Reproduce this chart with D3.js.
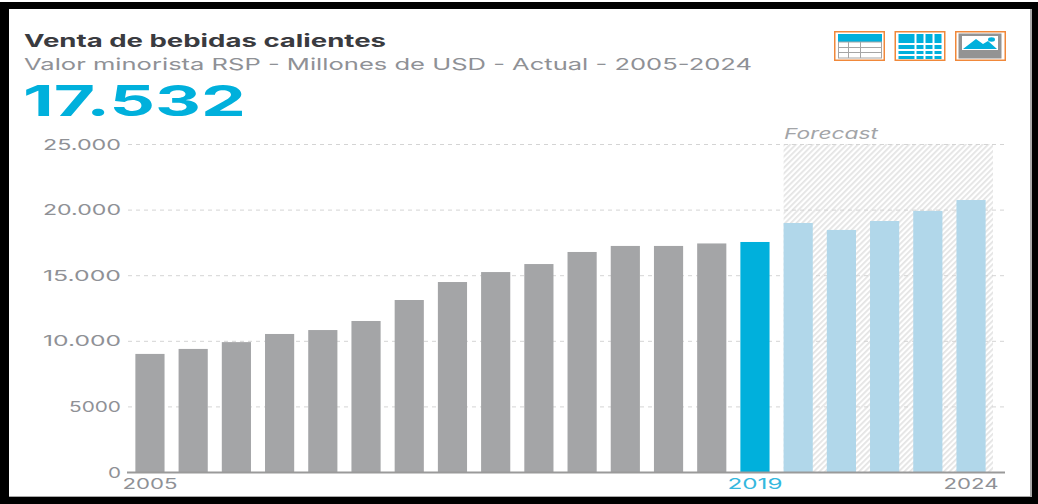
<!DOCTYPE html>
<html lang="es">
<head>
<meta charset="utf-8">
<title>Venta de bebidas calientes</title>
<script src="https://cdn.jsdelivr.net/npm/d3@7"></script>
<style>
  html, body { margin: 0; padding: 0; background: #fff; }
  svg { display: block; }
  text { font-family: "Inter", "Lato", sans-serif; }
</style>
</head>
<body>
<svg id="chart" width="1038" height="504"></svg>
<script>
// Retail value of hot drinks, USD millions
const years = [2005, 2006, 2007, 2008, 2009, 2010, 2011, 2012, 2013, 2014,
               2015, 2016, 2017, 2018, 2019, 2020, 2021, 2022, 2023, 2024];
const values = [9000, 9380, 9900, 10520, 10820, 11510, 13110, 14480, 15240, 15850,
                16770, 17230, 17230, 17420, 17532, 18980, 18450, 19130, 19900, 20730];
const yTicks = [0, 5000, 10000, 15000, 20000, 25000];
const yTickLabels = ["0", "5000", "10.000", "15.000", "20.000", "25.000"];
const xLabels = [2005, 2019, 2024];
const currentYear = 2019;
const titleText = "Venta de bebidas calientes";
const subtitleText = "Valor minorista RSP - Millones de USD - Actual - 2005-2024";
const headlineText = "17.532";
const forecastText = "Forecast";

const svg = d3.select("#chart");
const GREY_TEXT = "#8f9196", BLUE = "#00b0dc", LIGHT_BLUE = "#b1d7ea", GREY_BAR = "#a4a5a7";

// Outer frame
svg.append("rect").attr("x", 0).attr("y", 2).attr("width", 1038).attr("height", 502).attr("fill", "#000");
svg.append("rect").attr("x", 9).attr("y", 9).attr("width", 1023).attr("height", 488).attr("fill", "#a9a9a9");
svg.append("rect").attr("x", 9).attr("y", 9).attr("width", 1021).attr("height", 487).attr("fill", "#fff");

const x = d3.scaleBand().domain(years).range([125, 996]).paddingInner(0.325).paddingOuter(0.24);
const y = d3.scaleLinear().domain([0, 25000]).range([472, 144]);

// Fine diagonal hatching behind the forecast years
const defs = svg.append("defs");
const hatch = defs.append("pattern").attr("id", "hatch").attr("patternUnits", "userSpaceOnUse")
  .attr("width", 4).attr("height", 4).attr("patternTransform", "rotate(-45)");
hatch.append("rect").attr("width", 4).attr("height", 4).attr("fill", "#fff");
hatch.append("rect").attr("width", 4).attr("height", 1.8).attr("fill", "#e4e4e4");

const forecastYears = years.filter(d => d > currentYear);
const hatchLeft = x(forecastYears[0]);
svg.append("rect").attr("x", hatchLeft).attr("y", y(25000))
  .attr("width", 993 - hatchLeft).attr("height", y(0) - y(25000)).attr("fill", "url(#hatch)");

// Dashed grid lines
svg.append("g").selectAll("line").data(yTicks.slice(1)).join("line")
  .attr("x1", 128).attr("x2", 1004)
  .attr("y1", d => y(d) + 0.5).attr("y2", d => y(d) + 0.5)
  .attr("stroke", "#d4d4d4").attr("stroke-width", 1).attr("stroke-dasharray", "4 4");

// Bars
svg.append("g").selectAll("rect").data(years).join("rect")
  .attr("x", d => x(d)).attr("width", x.bandwidth())
  .attr("y", (d, i) => y(values[i]))
  .attr("height", (d, i) => y(0) - y(values[i]))
  .attr("fill", d => d === currentYear ? BLUE : d > currentYear ? LIGHT_BLUE : GREY_BAR);

// Baseline
svg.append("line").attr("x1", 127).attr("x2", 1005).attr("y1", 472.5).attr("y2", 472.5)
  .attr("stroke", "#9a9a9a").attr("stroke-width", 2);

// Stretches a label to a set width so the wide face of the layout is kept
function label(txt, xPos, yPos, width, size, fill, opts = {}) {
  return svg.append("text").text(txt)
    .attr("x", xPos).attr("y", yPos)
    .attr("font-size", size).attr("fill", fill)
    .attr("font-weight", opts.weight || 400)
    .attr("font-style", opts.style || "normal")
    .attr("text-anchor", opts.anchor || "start")
    .attr("textLength", width).attr("lengthAdjust", "spacingAndGlyphs");
}

label(titleText, 24, 47, 362, 17.5, "#3a3b40", { weight: 700 });
label(subtitleText, 24, 70, 728, 16.5, GREY_TEXT);
label(headlineText, 23, 116, 223, 43, BLUE, { weight: 700 });
label(forecastText, 784, 139, 94, 15, "#a3a5a8", { style: "italic" });

// Value axis labels
const tickWidths = { "0": 13, "5000": 52, "10.000": 78, "15.000": 78, "20.000": 78, "25.000": 78 };
yTicks.forEach((t, i) => {
  label(yTickLabels[i], 121, y(t) + 5.5, tickWidths[yTickLabels[i]], 15, GREY_TEXT, { anchor: "end" });
});

// Year labels
xLabels.forEach(d => {
  label(d, x(d) + x.bandwidth() / 2, 489, 55, 15,
        d === currentYear ? "#35b8de" : GREY_TEXT, { anchor: "middle" });
});

// Toolbar icons
const iconLefts = [834, 894.5, 955];
const icons = svg.append("g");
iconLefts.forEach(left => {
  icons.append("rect").attr("x", left + 0.75).attr("y", 31.75).attr("width", 49.5).attr("height", 28.5)
    .attr("fill", "#fff").attr("stroke", "#f0883a").attr("stroke-width", 1.5);
});

// Table icon: blue header over a grey ruled grid
const ic1 = icons.append("g").attr("transform", `translate(${iconLefts[0]},31)`);
ic1.append("rect").attr("x", 4).attr("y", 3).attr("width", 44).attr("height", 8).attr("fill", BLUE);
ic1.append("rect").attr("x", 4.5).attr("y", 11).attr("width", 43).attr("height", 16)
  .attr("fill", "#fff").attr("stroke", "#a5a5a5");
[16, 21].forEach(v => ic1.append("line").attr("x1", 4).attr("x2", 48).attr("y1", v + 0.5).attr("y2", v + 0.5).attr("stroke", "#a5a5a5"));
[14, 26].forEach(v => ic1.append("line").attr("x1", v + 0.5).attr("x2", v + 0.5).attr("y1", 11).attr("y2", 27).attr("stroke", "#a5a5a5"));

// Grid icon: solid blue cells
const ic2 = icons.append("g").attr("transform", `translate(${iconLefts[1]},31)`);
const colEdges = [[4, 20], [22, 29], [31, 38], [40, 47]];
const rowEdges = [[3, 12], [14, 18], [20, 23], [25, 28]];
colEdges.forEach(c => rowEdges.forEach(r => {
  ic2.append("rect").attr("x", c[0]).attr("y", r[0]).attr("width", c[1] - c[0]).attr("height", r[1] - r[0]).attr("fill", BLUE);
}));

// Image icon: landscape on a grey frame
const ic3 = icons.append("g").attr("transform", `translate(${iconLefts[2]},31)`);
ic3.append("rect").attr("x", 3.5).attr("y", 2.5).attr("width", 43).attr("height", 25).attr("fill", "#939393");
ic3.append("rect").attr("x", 7).attr("y", 5).attr("width", 36).attr("height", 14).attr("fill", "#fff");
ic3.append("path").attr("d", "M8,18 L21,8 L28,13 L33,10 L42,18 Z").attr("fill", BLUE);
ic3.append("ellipse").attr("cx", 36.5).attr("cy", 8.5).attr("rx", 3.5).attr("ry", 2.2).attr("fill", BLUE);
</script>
</body>
</html>
